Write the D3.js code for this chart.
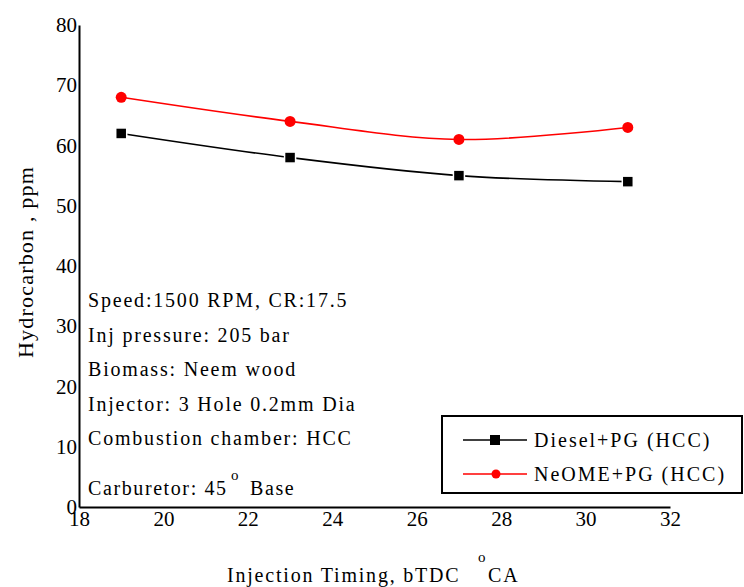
<!DOCTYPE html>
<html>
<head>
<meta charset="utf-8">
<script src="https://cdn.jsdelivr.net/npm/d3@7"></script>
<style>
  body { margin: 0; background: #fff; }
</style>
</head>
<body>
<div id="chart"></div>
<script>
// Data
const timings = [19, 23, 27, 31];
const dieselPG = [62, 58, 55, 54];
const neomePG = [68, 64, 61, 63];
const xTicks = [18, 20, 22, 24, 26, 28, 30, 32];
const yTicks = [0, 10, 20, 30, 40, 50, 60, 70, 80];
const seriesNames = ["Diesel+PG (HCC)", "NeOME+PG (HCC)"];
const seriesColors = ["#000000", "#ff0000"];
const notes = [
    "Speed:1500 RPM, CR:17.5",
    "Inj pressure: 205 bar",
    "Biomass: Neem wood",
    "Injector: 3 Hole 0.2mm Dia",
    "Combustion chamber: HCC"
];

const FONT = "'Liberation Serif', 'Times New Roman', 'DejaVu Serif', serif";
const width = 744, height = 587;
const plot = { left: 79, right: 670, top: 25, bottom: 507 };

const svg = d3.select("#chart").append("svg")
    .attr("width", width)
    .attr("height", height)
    .attr("font-family", FONT);

const x = d3.scaleLinear().domain([18, 32]).range([plot.left, plot.right]);
const y = d3.scaleLinear().domain([0, 80]).range([plot.bottom, plot.top]);

// Axes
const xAxis = svg.append("g")
    .attr("transform", `translate(0,${plot.bottom})`)
    .call(d3.axisBottom(x).tickValues(xTicks).tickSize(0).tickPadding(4));
xAxis.attr("font-family", FONT).attr("font-size", 21);
xAxis.select(".domain").attr("stroke", "#000").attr("stroke-width", 2);
xAxis.selectAll("text").attr("fill", "#000");

const yAxis = svg.append("g")
    .attr("transform", `translate(${plot.left},0)`)
    .call(d3.axisLeft(y).tickValues(yTicks).tickSize(0).tickPadding(2));
yAxis.attr("font-family", FONT).attr("font-size", 21);
yAxis.select(".domain").attr("stroke", "#000").attr("stroke-width", 2);
yAxis.selectAll("text").attr("fill", "#000");

// Axis titles
svg.append("text")
    .attr("transform", `translate(33,358) rotate(-90)`)
    .attr("text-anchor", "start")
    .attr("font-size", 22)
    .attr("letter-spacing", 1.2)
    .text("Hydrocarbon , ppm");

const xTitle = svg.append("text")
    .attr("font-size", 20)
    .attr("letter-spacing", 1.8);
xTitle.append("tspan").attr("x", 227).attr("y", 582).text("Injection Timing, bTDC");
xTitle.append("tspan").attr("x", 478).attr("y", 562).attr("font-size", 15).text("o");
xTitle.append("tspan").attr("x", 488).attr("y", 582).text("CA");

// Lines and markers
const line = d3.line()
    .x((d, i) => x(timings[i]))
    .y(d => y(d))
    .curve(d3.curveCatmullRom.alpha(0.5));

[dieselPG, neomePG].forEach((vals, s) => {
    svg.append("path")
        .datum(vals)
        .attr("fill", "none")
        .attr("stroke", seriesColors[s])
        .attr("stroke-width", 1.6)
        .attr("d", line);
});

svg.selectAll("rect.diesel")
    .data(dieselPG)
    .enter().append("rect")
    .attr("class", "diesel")
    .attr("x", (d, i) => x(timings[i]) - 5.5)
    .attr("y", d => y(d) - 5.5)
    .attr("width", 11)
    .attr("height", 11)
    .attr("fill", "#000")
    .attr("stroke", "#fff")
    .attr("stroke-width", 1.5);

svg.selectAll("circle.neome")
    .data(neomePG)
    .enter().append("circle")
    .attr("class", "neome")
    .attr("cx", (d, i) => x(timings[i]))
    .attr("cy", d => y(d))
    .attr("r", 5.5)
    .attr("fill", "#ff0000");

// Notes
notes.forEach((t, i) => {
    svg.append("text")
        .attr("x", 88)
        .attr("y", 307 + i * 34.5)
        .attr("font-size", 20)
        .attr("letter-spacing", 1.8)
        .text(t);
});
const carb = svg.append("text")
    .attr("font-size", 20)
    .attr("letter-spacing", 1.6);
carb.append("tspan").attr("x", 88).attr("y", 495).text("Carburetor: 45");
carb.append("tspan").attr("x", 231).attr("y", 480).attr("font-size", 15).text("o");
carb.append("tspan").attr("x", 250).attr("y", 495).text("Base");

// Legend
const legend = svg.append("g");
legend.append("rect")
    .attr("x", 442)
    .attr("y", 416)
    .attr("width", 300)
    .attr("height", 77)
    .attr("fill", "#fff")
    .attr("stroke", "#000")
    .attr("stroke-width", 2);

seriesNames.forEach((name, i) => {
    const ly = 440 + i * 34;
    legend.append("line")
        .attr("x1", 463).attr("x2", 527)
        .attr("y1", ly).attr("y2", ly)
        .attr("stroke", seriesColors[i])
        .attr("stroke-width", 1.6);
    if (i === 0) {
        legend.append("rect")
            .attr("x", 490).attr("y", ly - 5)
            .attr("width", 10).attr("height", 10)
            .attr("fill", "#000");
    } else {
        legend.append("circle")
            .attr("cx", 496).attr("cy", ly)
            .attr("r", 4.5)
            .attr("fill", "#ff0000");
    }
    legend.append("text")
        .attr("x", 534)
        .attr("y", ly + 7)
        .attr("font-size", 20)
        .attr("letter-spacing", 2)
        .text(name);
});
</script>
</body>
</html>
